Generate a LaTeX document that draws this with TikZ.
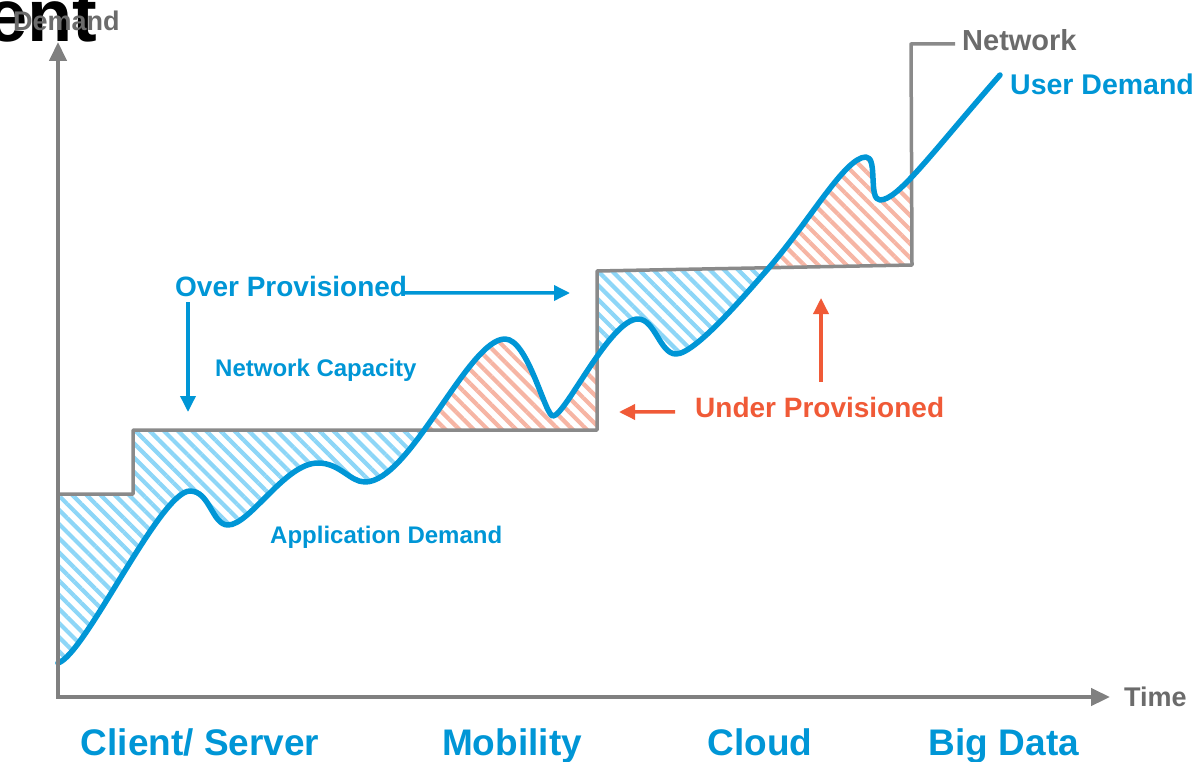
\documentclass[tikz,border=0pt]{standalone}
\usepackage{fontspec}
\setmainfont{Liberation Sans}
\usepackage{xcolor}
\usepackage{tikz}
\usetikzlibrary{arrows.meta}
\usetikzlibrary{patterns.meta}
\usetikzlibrary{positioning}

\definecolor{hpblue}{HTML}{0096D6}
\definecolor{hpred}{HTML}{F05A37}
\definecolor{axisgray}{HTML}{808080}
\definecolor{netgray}{HTML}{8A8A8A}
\definecolor{labelgray}{HTML}{6B6B6B}
\definecolor{hatchblue}{HTML}{8DD6F7}
\definecolor{hatchred}{HTML}{F6B5A4}

% the user demand curve, in picture pixels
\newcommand{\demandcurve}{(58,663)
  .. controls (85,655) and (160,491) .. (190,491)
  .. controls (210,491) and (212,525) .. (228,525)
  .. controls (250,525) and (285,463) .. (318,463)
  .. controls (340,463) and (350,482) .. (365,482)
  .. controls (410,482) and (468,339) .. (505,339)
  .. controls (528,339) and (545,416) .. (553,416)
  .. controls (565,416) and (610,319) .. (638,319)
  .. controls (655,319) and (660,354) .. (676,354)
  .. controls (695,354) and (745,295) .. (767,270)
  .. controls (810,221) and (845,157) .. (866,157)
  .. controls (878,157) and (868,200) .. (880,200)
  .. controls (898,200) and (930,155) .. (1000,75)}

\begin{document}
\begin{tikzpicture}[x=1pt,y=-1pt,
    lbl/.style={inner sep=0pt,anchor=base west,font={\bfseries\fontsize{#1}{#1}\selectfont}},
    axis/.style={line width=4.5pt,axisgray,line join=miter,
      {Triangle[length=19pt,width=17pt]}-{Triangle[length=19pt,width=17pt]}},
    netline/.style={line width=3.5pt,netgray,line join=round},
    demand/.style={line width=5.5pt,hpblue,line cap=round,line join=round},
    bluearrow/.style={line width=3.5pt,hpblue,-{Triangle[length=16pt,width=15pt]}},
    redarrow/.style={line width=3.5pt,hpred,-{Triangle[length=16pt,width=15pt]}},
    overfill/.style={pattern={Lines[angle=-45,distance=10pt,line width=4.2pt]},pattern color=hatchblue},
    underfill/.style={pattern={Lines[angle=-45,distance=10pt,line width=4.2pt]},pattern color=hatchred}]

  \useasboundingbox (0,0) rectangle (1202,762);

  \coordinate (Origin)   at (58,697);
  \coordinate (YAxisMax) at (58,42);
  \coordinate (XAxisMax) at (1110,697);

  % network capacity steps
  \coordinate (N0) at (58,494);
  \coordinate (N1) at (133,494);
  \coordinate (N2) at (133,430);
  \coordinate (N3) at (597,430);
  \coordinate (N4) at (597,271);
  \coordinate (N5) at (912,265);
  \coordinate (N6) at (911,44);
  \coordinate (N7) at (955,44);

  % over provisioned gaps (network above demand)
  \begin{scope}
    \clip \demandcurve -- (1000,0) -- (58,0) -- cycle;
    \fill[overfill] (N0) -- (N1) -- (N2) -- (N3) -- (N4) -- (N5) -- (912,697) -- (Origin) -- cycle;
  \end{scope}

  % under provisioned gaps (demand above network)
  \begin{scope}
    \clip \demandcurve -- (1000,697) -- (Origin) -- cycle;
    \fill[underfill] (N0) -- (N1) -- (N2) -- (N3) -- (N4) -- (N5) -- (912,0) -- (58,0) -- cycle;
  \end{scope}

  \draw[netline] (N0) -- (N1) -- (N2) -- (N3) -- (N4) -- (N5) -- (N6) -- (N7);
  \node[lbl=29,text=labelgray] (netlbl) at (962,51) {Network};

  \draw[demand] \demandcurve;
  \node[lbl=28.5,text=hpblue] (userlbl) at (1010,95) {User Demand};

  % axes
  \node[font={\bfseries\fontsize{74}{74}\selectfont},inner sep=0pt,anchor=base west] (titlefrag) at (-14,42) {ent};
  \draw[axis] (YAxisMax) -- (Origin) -- (XAxisMax);
  \node[lbl=27,text=labelgray] (demandlbl) at (13,31) {Demand};
  \node[lbl=27,text=labelgray] (timelbl) at (1124,706) {Time};

  % labels and pointers
  \node[lbl=28,text=hpblue] (overlbl) at (175,296) {Over Provisioned};
  \coordinate (overtipR) at (570,293);
  \coordinate (overtipD) at (188,412);
  \draw[bluearrow] ([xshift=-4pt,yshift=-7pt]overlbl.east) -- (overtipR);
  \draw[bluearrow] ([xshift=13pt,yshift=-6pt]overlbl.south west) -- (overtipD);

  \node[lbl=24,text=hpblue] (caplbl) at (215,376) {Network Capacity};
  \node[lbl=24,text=hpblue] (applbl) at (270,543) {Application Demand};

  \node[lbl=28,text=hpred] (underlbl) at (695,417) {Under Provisioned};
  \coordinate (undertipL) at (619,412);
  \coordinate (undertipU) at (821,298);
  \draw[redarrow] ([xshift=-20pt,yshift=-5pt]underlbl.west) -- (undertipL);
  \draw[redarrow] ([xshift=126pt,yshift=15pt]underlbl.north west) -- (undertipU);

  % eras along the time axis
  \foreach \x/\era in {200/{Client/ Server},512/Mobility,760/Cloud,1004/Big Data}
  {
    \node[lbl=37,text=hpblue,anchor=base] (era\x) at (\x,755) {\era};
  }

\end{tikzpicture}
\end{document}
